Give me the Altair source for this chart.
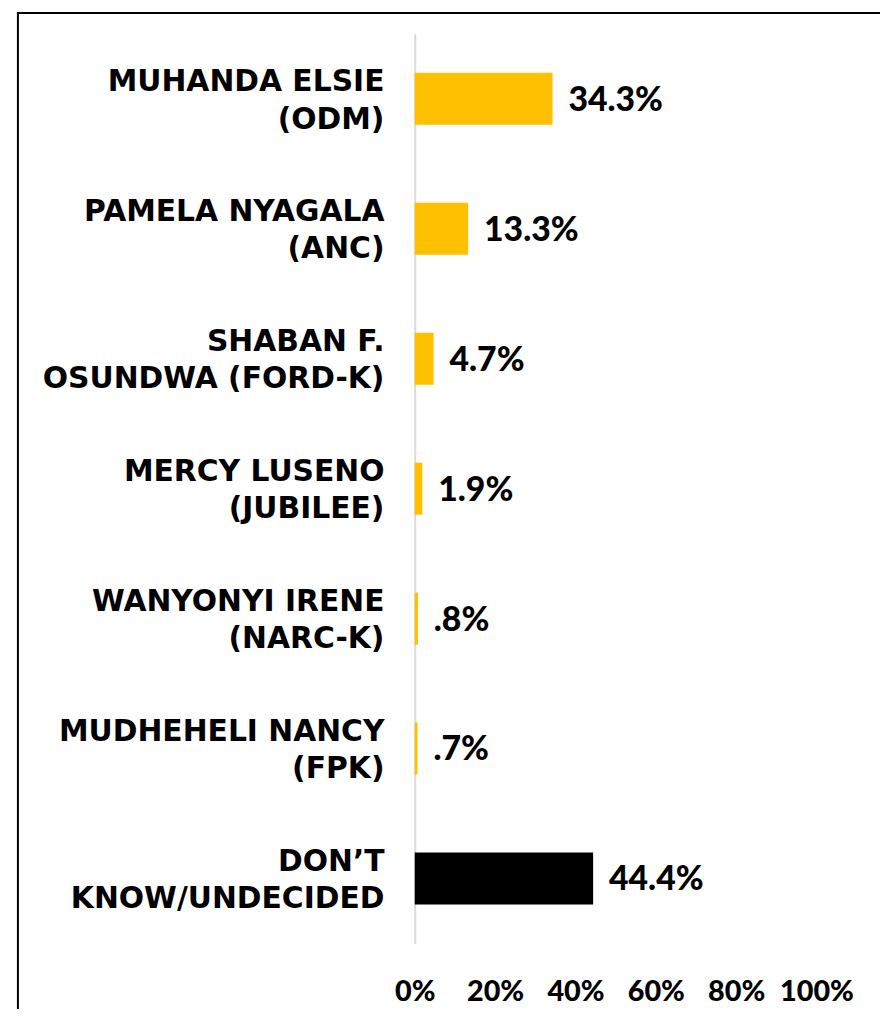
import altair as alt
import pandas as pd

candidates = [
    "MUHANDA ELSIE|(ODM)",
    "PAMELA NYAGALA|(ANC)",
    "SHABAN F.|OSUNDWA (FORD-K)",
    "MERCY LUSENO|(JUBILEE)",
    "WANYONYI IRENE|(NARC-K)",
    "MUDHEHELI NANCY|(FPK)",
    "DON\u2019T|KNOW/UNDECIDED",
]
values = [34.3, 13.3, 4.7, 1.9, 0.8, 0.7, 44.4]
value_labels = ["34.3%", "13.3%", "4.7%", "1.9%", ".8%", ".7%", "44.4%"]
bar_colors = ["#FFC000", "#FFC000", "#FFC000", "#FFC000", "#FFC000", "#FFC000", "#000000"]
x_ticks = [0, 20, 40, 60, 80, 100]

df = pd.DataFrame({
    "cand": candidates,
    "value": values,
    "label": value_labels,
    "color": bar_colors,
})

LABEL_FONT = "DejaVu Sans"
NUM_FONT = "Lato"

y_enc = alt.Y(
    "cand:N",
    sort=candidates,
    title=None,
    scale=alt.Scale(paddingInner=0.6, paddingOuter=0.3),
    axis=alt.Axis(
        labelExpr="split(datum.label, '|')",
        labelFont=LABEL_FONT,
        labelFontWeight="bold",
        labelFontSize=30,
        labelColor="#000000",
        labelLineHeight=38,
        labelPadding=31,
        labelAlign="right",
        labelOffset=-17,
        ticks=False,
        domainColor="#D9D9D9",
        domainWidth=2,
        grid=False,
        labelLimit=420,
    ),
)

x_enc = alt.X(
    "value:Q",
    title=None,
    scale=alt.Scale(domain=[0, 100], nice=False),
    axis=alt.Axis(
        values=x_ticks,
        labelExpr="datum.value + '%'",
        labelFont=NUM_FONT,
        labelFontWeight=900,
        labelFontSize=29,
        labelColor="#000000",
        labelPadding=34,
        ticks=False,
        domain=False,
        grid=False,
        labelFlush=False,
    ),
)

bars = alt.Chart(df).mark_bar().encode(
    x=x_enc,
    y=y_enc,
    color=alt.Color("color:N", scale=None, legend=None),
)

texts = alt.Chart(df).mark_text(
    align="left", baseline="middle", dx=16, dy=2,
    font=NUM_FONT, fontWeight=900, fontSize=34, color="#000000",
).encode(
    x="value:Q",
    y=alt.Y("cand:N", sort=candidates),
    text="label:N",
)

frame_df = pd.DataFrame({"k": [1]})
left_line = alt.Chart(frame_df).mark_rule(color="#000000", strokeWidth=2).encode(
    x=alt.value(-400), y=alt.value(-21), y2=alt.value(985)
)
top_line = alt.Chart(frame_df).mark_rule(color="#000000", strokeWidth=2).encode(
    x=alt.value(-401), x2=alt.value(472), y=alt.value(-21)
)
right_line = alt.Chart(frame_df).mark_rule(color="#000000", strokeWidth=2).encode(
    x=alt.value(471), y=alt.value(-21), y2=alt.value(985)
)

chart = alt.layer(bars, texts, left_line, top_line, right_line).properties(
    width=405,
    height=917,
    background="white",
    autosize=alt.AutoSizeParams(type="none"),
    padding={"left": 410, "top": 22, "right": 64, "bottom": 62},
).configure_view(strokeWidth=0, stroke=None)

chart.save("out.html", embed_options={"renderer": "svg", "actions": False})
